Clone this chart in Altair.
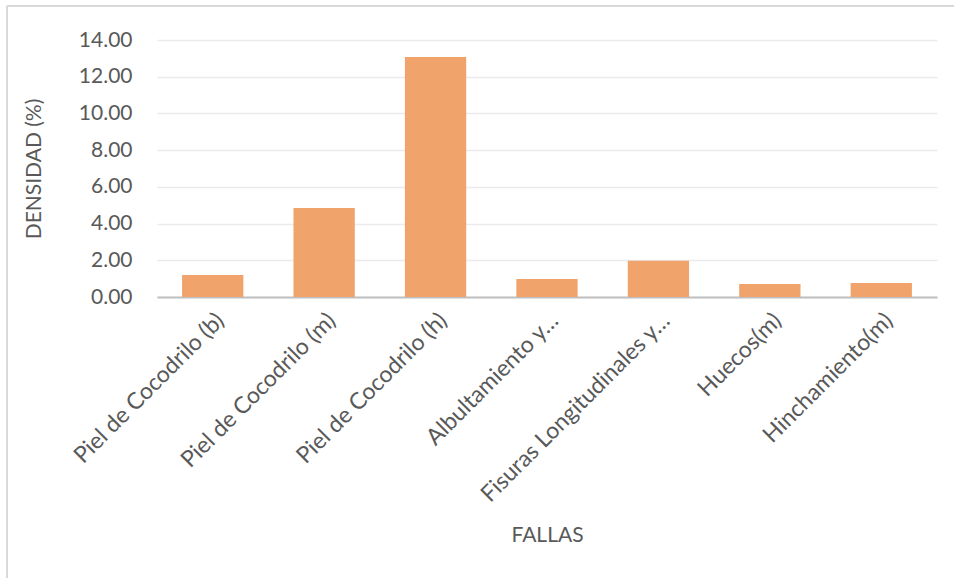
import altair as alt
import pandas as pd

categorias = [
    "Piel de Cocodrilo (b)",
    "Piel de Cocodrilo (m)",
    "Piel de Cocodrilo (h)",
    "Albultamiento y…",
    "Fisuras Longitudinales y…",
    "Huecos(m)",
    "Hinchamiento(m)",
]
densidad = [1.20, 4.85, 13.07, 0.98, 1.98, 0.71, 0.76]

df = pd.DataFrame({"falla": categorias, "densidad": densidad})

FONT = "Lato"
GRAY = "#595959"

bars = alt.Chart(df).mark_bar(color="#F0A36B").encode(
    x=alt.X(
        "falla:N",
        sort=categorias,
        scale=alt.Scale(paddingInner=0.45, paddingOuter=0.225),
        axis=alt.Axis(
            title="FALLAS",
            labelAngle=-45,
            labelFont=FONT,
            labelFontSize=23,
            labelColor=GRAY,
            labelPadding=12,
            labelLimit=400,
            ticks=False,
            domainColor="#BFBFBF",
            domainWidth=2,
            titleFont=FONT,
            titleFontSize=21,
            titleFontWeight="normal",
            titleColor=GRAY,
            titleY=238,
            titleBaseline="middle",
        ),
    ),
    y=alt.Y(
        "densidad:Q",
        scale=alt.Scale(domain=[0, 14], nice=False),
        axis=alt.Axis(
            title="DENSIDAD (%)",
            values=[0, 2, 4, 6, 8, 10, 12, 14],
            format=".2f",
            labelFont=FONT,
            labelFontSize=21,
            labelColor=GRAY,
            labelPadding=25,
            ticks=False,
            domain=False,
            gridColor="#EBEBEB",
            gridWidth=1.5,
            titleFont=FONT,
            titleFontSize=21,
            titleFontWeight="normal",
            titleColor=GRAY,
            titleX=-113,
        ),
    ),
)

border_left = alt.Chart(df).mark_rule(color="#D9D9D9", strokeWidth=2).encode(
    x=alt.value(-150), y=alt.value(-34), y2=alt.value(538)
)
border_top = alt.Chart(df).mark_rule(color="#D9D9D9", strokeWidth=2).encode(
    x=alt.value(-150), x2=alt.value(797), y=alt.value(-34)
)

chart = (
    alt.layer(bars, border_left, border_top)
    .properties(
        width=780,
        height=257,
        padding={"left": 6, "top": 5, "right": 0, "bottom": 0},
        background="white",
    )
    .configure_view(stroke=None)
)

chart.save("out.html", embed_options={"renderer": "svg", "actions": False})
